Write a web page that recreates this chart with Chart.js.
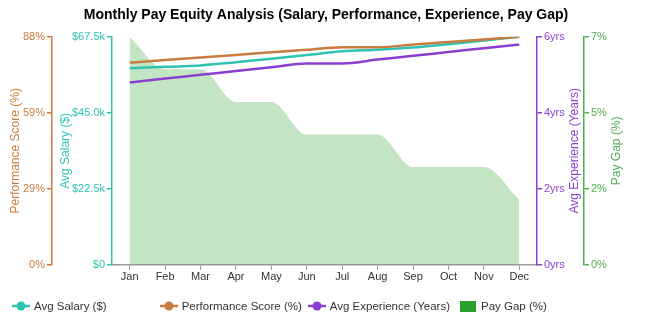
<!DOCTYPE html>
<html>
<head>
<meta charset="utf-8">
<script src="https://cdn.jsdelivr.net/npm/chart.js@4.4.1/dist/chart.umd.min.js"></script>
<style>
  html, body { margin: 0; padding: 0; background: #fff; }
  #wrap { position: relative; width: 650px; height: 325px; }
  #legend { position: absolute; left: 12px; top: 299px; font: 11.5px "Liberation Sans", Arial, sans-serif; color: #333; display: flex; align-items: center; }
  .item { display: flex; align-items: center; }
  .item canvas { margin-right: 4px; }
</style>
</head>
<body>
<div id="wrap">
  <canvas id="chart" width="650" height="325"></canvas>
  <div id="legend"></div>
</div>
<script>
const months = ['Jan', 'Feb', 'Mar', 'Apr', 'May', 'Jun', 'Jul', 'Aug', 'Sep', 'Oct', 'Nov', 'Dec'];
const avgSalary = [58200, 58600, 59000, 60000, 61000, 62100, 63200, 63700, 64300, 65300, 66400, 67500];
const performance = [78, 79, 80, 81, 82, 83, 84, 84, 85, 86, 87, 88];
const experience = [4.8, 4.9, 5.0, 5.1, 5.2, 5.3, 5.3, 5.4, 5.5, 5.6, 5.7, 5.8];
const payGap = [7, 6, 6, 5, 5, 4, 4, 4, 3, 3, 3, 2];
const experienceMax = 6;

const teal = '#2fc4b2';
const orange = '#c97c3f';
const purple = '#8a3fd0';
const green = '#2ca02c';
const gapAxis = '#4caf50';
const font = "'Liberation Sans', Arial, sans-serif";

function sideAxis(color, title, max, pos, fmt, width) {
    const ax = {
        type: 'linear',
        position: pos,
        min: 0,
        max: max,
        afterBuildTicks: (axis) => {
            axis.ticks = [0, 1, 2, 3].map(i => ({ value: max * i / 3 }));
        },
        border: { display: true, color: color, width: 1.5 },
        grid: { drawOnChartArea: false, drawTicks: true, tickLength: 5, color: color, lineWidth: 1.5 },
        ticks: { color: color, font: { family: font, size: 11 }, padding: 2, callback: fmt },
        title: { display: pos === 'left', text: title, color: color, font: { family: font, size: 12 }, padding: { top: 6, bottom: 0 } }
    };
    if (width) ax.afterFit = (axis) => { axis.width = width; };
    return ax;
}

// right-hand axis titles read bottom to top, like the left ones
const rightTitles = {
    id: 'rightTitles',
    afterDraw(chart) {
        const g = chart.ctx;
        const area = chart.chartArea;
        [['yExp', 38], ['yGap', 33]].forEach(([id, dx]) => {
            const s = chart.scales[id];
            const opt = s.options.title;
            g.save();
            g.translate(s.left + dx, (area.top + area.bottom) / 2);
            g.rotate(-Math.PI / 2);
            g.fillStyle = opt.color;
            g.font = '12px ' + font;
            g.textAlign = 'center';
            g.textBaseline = 'middle';
            g.fillText(opt.text, 0, 0);
            g.restore();
        });
    }
};

const ctx = document.getElementById('chart').getContext('2d');
const chart = new Chart(ctx, {
    data: {
        labels: months,
        datasets: [
            {
                type: 'line', label: 'Avg Salary ($)', data: avgSalary, yAxisID: 'ySalary',
                borderColor: teal, borderWidth: 2.5, pointRadius: 0, cubicInterpolationMode: 'monotone', fill: false, order: 1
            },
            {
                type: 'line', label: 'Performance Score (%)', data: performance, yAxisID: 'yPerf',
                borderColor: orange, borderWidth: 2.5, pointRadius: 0, cubicInterpolationMode: 'monotone', fill: false, order: 0
            },
            {
                type: 'line', label: 'Avg Experience (Years)', data: experience, yAxisID: 'yExp',
                borderColor: purple, borderWidth: 2.5, pointRadius: 0, cubicInterpolationMode: 'monotone', fill: false, order: 2
            },
            {
                type: 'line', label: 'Pay Gap (%)', data: payGap, yAxisID: 'yGap',
                borderColor: 'rgba(0,0,0,0)', borderWidth: 0, backgroundColor: 'rgba(44,160,44,0.28)',
                pointRadius: 0, cubicInterpolationMode: 'monotone', fill: 'origin', order: 5
            }
        ]
    },
    options: {
        responsive: false,
        animation: false,
        layout: { padding: { left: 2, right: 0, top: 0, bottom: 40 } },
        plugins: {
            legend: { display: false },
            tooltip: { enabled: false },
            title: {
                display: true,
                text: 'Monthly Pay Equity Analysis (Salary, Performance, Experience, Pay Gap)',
                color: '#000', font: { family: font, size: 14, weight: 'bold' },
                padding: { top: 7, bottom: 13 }
            }
        },
        scales: {
            x: {
                offset: true,
                border: { display: true, color: '#999', width: 1.5 },
                grid: { display: true, drawOnChartArea: false, drawTicks: true, tickLength: 5, color: '#999', offset: false },
                ticks: { color: '#333', font: { family: font, size: 11 }, padding: 1, maxRotation: 0 }
            },
            ySalary: sideAxis(teal, 'Avg Salary ($)', Math.max(...avgSalary), 'left',
                v => v === 0 ? '$0' : '$' + (v / 1000).toFixed(1) + 'k', 60),
            yPerf: sideAxis(orange, 'Performance Score (%)', Math.max(...performance), 'left',
                v => Math.round(v) + '%', 50),
            yExp: sideAxis(purple, 'Avg Experience (Years)', experienceMax, 'right',
                v => Math.round(v) + 'yrs', 47),
            yGap: sideAxis(gapAxis, 'Pay Gap (%)', Math.max(...payGap), 'right',
                v => Math.round(v) + '%', 66)
        }
    },
    plugins: [rightTitles]
});

// legend drawn as html below the chart
const legendItems = [
    { label: 'Avg Salary ($)', color: teal, kind: 'line', gap: 53 },
    { label: 'Performance Score (%)', color: orange, kind: 'line', gap: 6 },
    { label: 'Avg Experience (Years)', color: purple, kind: 'line', gap: 9 },
    { label: 'Pay Gap (%)', color: green, kind: 'box', gap: 0 }
];
const legendEl = document.getElementById('legend');
legendItems.forEach(it => {
    const div = document.createElement('div');
    div.className = 'item';
    div.style.marginRight = it.gap + 'px';
    const c = document.createElement('canvas');
    c.width = 18; c.height = 14;
    const g = c.getContext('2d');
    g.fillStyle = it.color;
    g.strokeStyle = it.color;
    if (it.kind === 'line') {
        g.lineWidth = 2.5;
        g.beginPath(); g.moveTo(0, 7); g.lineTo(18, 7); g.stroke();
        g.beginPath(); g.arc(9, 7, 4.5, 0, Math.PI * 2); g.fill();
    } else {
        g.fillRect(1, 2, 16, 11);
    }
    div.appendChild(c);
    const s = document.createElement('span');
    s.textContent = it.label;
    div.appendChild(s);
    legendEl.appendChild(div);
});
</script>
</body>
</html>
